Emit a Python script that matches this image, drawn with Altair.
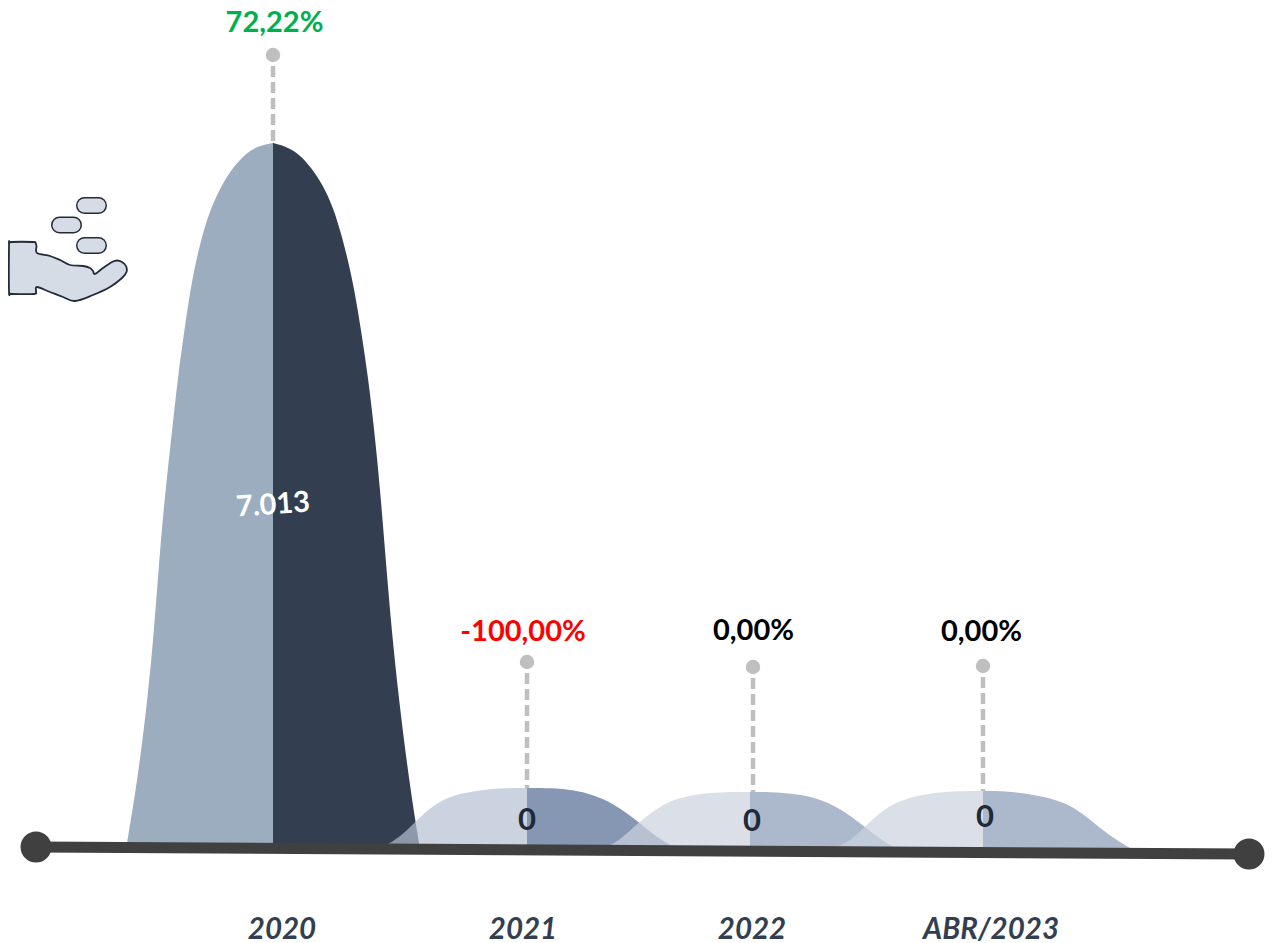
import altair as alt
import pandas as pd

WIDTH, HEIGHT = 1265, 933
X_DOMAIN = [8, 1273]
Y_DOMAIN = [941, 8]

h2020_left = [(127, 843), (137, 783), (145.5, 717), (152.5, 650), (158.5, 570), (163.5, 510), (168.5, 463), (173.5, 417), (178.5, 373), (183, 340), (188, 305), (194, 270), (201, 240), (209, 213), (219, 190), (231, 170), (244, 155), (257, 146), (273, 143)]
h2020_right = [(273, 143), (285, 146), (298, 153), (311, 167), (323, 185), (333, 207), (341, 233), (348, 260), (355, 293), (361, 330), (367.5, 373), (373.5, 423), (380, 487), (386.5, 570), (393.5, 650), (401, 717), (410, 787), (419, 843)]
h2021_left = [(385, 846), (400, 837), (415, 822), (433, 805), (453, 795), (480, 790), (505, 788), (527, 788)]
h2021_right = [(527, 788), (550, 788), (575, 790), (593, 795), (613, 803), (640, 823), (655, 836), (672, 846)]
h2022_left = [(608, 846), (620, 840), (639, 822), (657, 808), (677, 798), (703, 793), (728, 792), (750, 792)]
h2022_right = [(750, 792), (770, 792), (795, 794), (817, 798), (840, 808), (865, 827), (880, 839), (895, 848)]
h2023_left = [(835, 848), (850, 841), (865, 827), (880, 812), (900, 800), (930, 793), (960, 791), (983, 791)]
h2023_right = [(983, 791), (1005, 791), (1030, 794), (1050, 798), (1070, 805), (1087, 817), (1107, 834), (1130, 848)]
base_levels = [848, 849, 850, 851]

hump_order = [
    (h2020_left, "#9CADC0", 1, 0), (h2020_right, "#333F50", 1, 0),
    (h2021_right, "#8597B3", 1, 1), (h2021_left, "#B4C0D1", 0.7, 1),
    (h2022_right, "#ACB8CB", 1, 2), (h2022_left, "#CCD3DE", 0.7, 2),
    (h2023_right, "#ACB8CB", 1, 3), (h2023_left, "#CCD3DE", 0.7, 3),
]

axis_x = [36, 1249]
axis_y = [847, 854]
leader_x = [273, 527, 753, 983]
leader_dot = [55, 662, 667, 666]
leader_start = [66, 673, 678, 677]
leader_bottom = [143, 788, 792, 791]

pct_labels = ["72,22%", "-100,00%", "0,00%", "0,00%"]
pct_x = [274.5, 523, 753.5, 981.5]
pct_y = [23, 632, 631, 632]
pct_colors = ["#00B050", "#FF0000", "#000000", "#000000"]

value_labels = ["0", "0", "0"]
value_x = [527, 752, 985]
value_y = [821, 822, 818]

main_label = "7.013"
main_x = [273]
main_y = [505]

year_labels = ["2020", "2021", "2022", "ABR/2023"]
year_x = [282, 523, 752, 991]
year_y = [930, 930, 930, 930]

pill_x1 = [84.5, 59.5, 84.5]
pill_x2 = [98.5, 73.5, 98.5]
pill_y = [205.5, 225, 245.5]

hand_x = [9, 9.5, 11, 33, 35.5, 36.5, 37, 50, 60, 70, 83, 90, 93, 95, 103, 112, 117, 122, 126, 126.5, 122, 110, 93, 75, 63, 50, 37, 36, 34, 12, 10, 9]
hand_y = [245, 243, 242, 242, 243, 246, 253, 256, 260, 265, 266, 268, 271, 274, 268, 262, 260.5, 262, 266, 272, 278, 287, 295, 301, 297, 292, 287, 292, 294, 294, 293.5, 291]

FONT = "Lato"
xs = alt.Scale(domain=X_DOMAIN, nice=False, zero=False)
ys = alt.Scale(domain=Y_DOMAIN, nice=False, zero=False)
X = lambda f="x": alt.X(f"{f}:Q", scale=xs, axis=None)
Y = lambda f="y": alt.Y(f"{f}:Q", scale=ys, axis=None)

layers = []
for pts, color, op, b in hump_order:
    df = pd.DataFrame(pts, columns=["x", "y"])
    df["y2"] = base_levels[b]
    layers.append(
        alt.Chart(df).mark_area(color=color, opacity=op, interpolate="basis", line=False)
        .encode(x=X(), y=Y(), y2="y2:Q")
    )

lead = pd.DataFrame({"x": leader_x, "y": leader_start, "y2": leader_bottom, "dot": leader_dot})
layers.append(
    alt.Chart(lead).mark_rule(color="#BFBFBF", strokeWidth=4.5, strokeDash=[11, 5])
    .encode(x=X(), y=Y(), y2="y2:Q")
)
layers.append(
    alt.Chart(lead).mark_point(filled=True, color="#BFBFBF", opacity=1, size=210, shape="circle")
    .encode(x=X(), y=Y("dot"))
)

axis_df = pd.DataFrame({"x": axis_x, "y": axis_y})
layers.append(
    alt.Chart(axis_df).mark_line(color="#404040", strokeWidth=11)
    .encode(x=X(), y=Y())
)
layers.append(
    alt.Chart(axis_df).mark_point(filled=True, color="#404040", opacity=1, size=960, shape="circle")
    .encode(x=X(), y=Y())
)

pct_df = pd.DataFrame({"x": pct_x, "y": pct_y, "t": pct_labels, "c": pct_colors})
layers.append(
    alt.Chart(pct_df).mark_text(font=FONT, fontSize=29, fontWeight="bold", baseline="middle")
    .encode(x=X(), y=Y(), text="t:N", color=alt.Color("c:N", scale=None))
)

val_df = pd.DataFrame({"x": value_x, "y": value_y, "t": value_labels})
layers.append(
    alt.Chart(val_df).mark_text(font=FONT, fontSize=31, fontWeight="bold", baseline="middle", color="#1F2A38")
    .encode(x=X(), y=Y(), text="t:N")
)

main_df = pd.DataFrame({"x": main_x, "y": main_y, "t": [main_label]})
layers.append(
    alt.Chart(main_df).mark_text(font=FONT, fontSize=29, fontWeight="bold", baseline="middle", color="#FFFFFF", angle=356)
    .encode(x=X(), y=Y(), text="t:N")
)

year_df = pd.DataFrame({"x": year_x, "y": year_y, "t": year_labels})
layers.append(
    alt.Chart(year_df).mark_text(font=FONT, fontSize=29.5, fontWeight="bold", fontStyle="italic", baseline="middle", color="#333F50")
    .encode(x=X(), y=Y(), text="t:N")
)

hand_df = pd.DataFrame({"x": hand_x, "y": hand_y, "i": range(len(hand_x))})
layers.append(
    alt.Chart(hand_df).mark_line(fill="#D6DCE5", stroke="#222B38", strokeWidth=1.8, strokeJoin="round", interpolate="cardinal-closed")
    .encode(x=X(), y=Y(), order="i:Q")
)
pill_df = pd.DataFrame({"x": pill_x1, "x2": pill_x2, "y": pill_y})
layers.append(
    alt.Chart(pill_df).mark_rule(color="#222B38", strokeWidth=17, strokeCap="round")
    .encode(x=X(), x2="x2:Q", y=Y())
)
layers.append(
    alt.Chart(pill_df).mark_rule(color="#D6DCE5", strokeWidth=14, strokeCap="round")
    .encode(x=X(), x2="x2:Q", y=Y())
)

chart = (
    alt.layer(*layers)
    .properties(width=WIDTH, height=HEIGHT, padding=0, autosize=alt.AutoSizeParams(type="none"), background="#FFFFFF")
    .configure_view(stroke=None)
)
chart.save("out.html", embed_options={"renderer": "svg", "actions": False})
